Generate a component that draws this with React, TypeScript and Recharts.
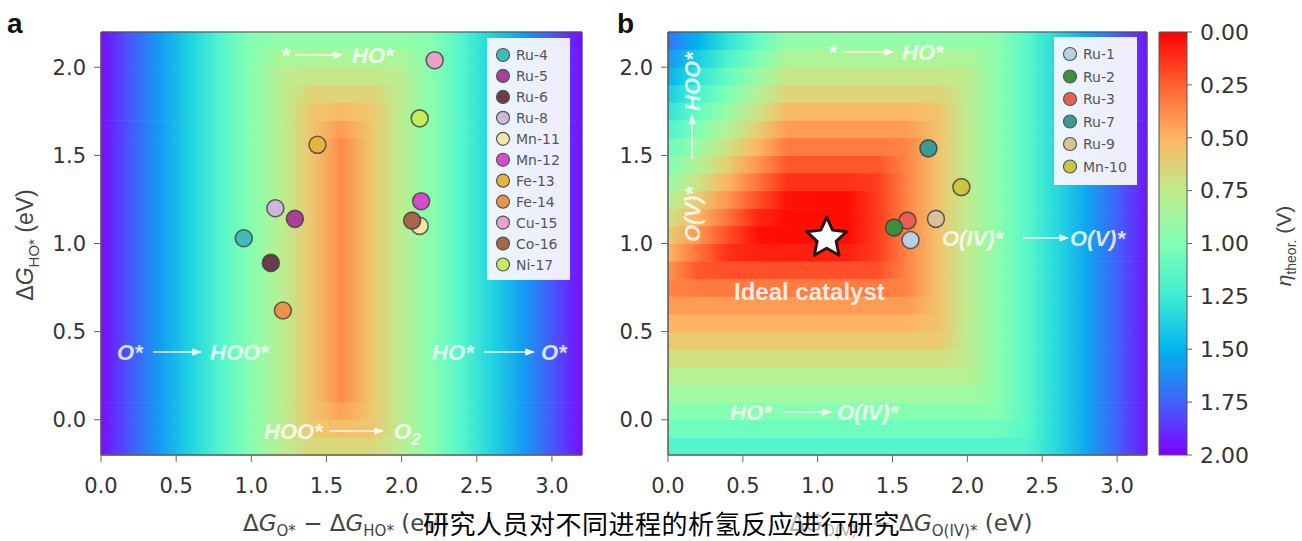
import React from "react";
import { ScatterChart, Scatter, XAxis, YAxis, ReferenceArea, BarChart, Bar } from "recharts";

// grid columns of the overpotential maps (eV)
const xGrid = [0, 0.2, 0.4, 0.6, 0.8, 1.0, 1.2, 1.4, 1.6, 1.8, 2.0, 2.2, 2.4, 2.6, 2.8, 3.0, 3.2];

// panel a: horizontal bands (bottom -> top) and eta_theor read per column
const yEdgesA = [-0.2, -0.1, 0.0, 0.1, 1.6, 1.7, 1.8, 1.9, 2.0, 2.1, 2.2];
const etaA = [
  [1.97, 1.77, 1.57, 1.37, 1.17, 0.97, 0.77, 0.64, 0.64, 0.64, 0.77, 0.97, 1.17, 1.37, 1.57, 1.77, 1.97],
  [1.97, 1.77, 1.57, 1.37, 1.17, 0.97, 0.77, 0.57, 0.54, 0.57, 0.77, 0.97, 1.17, 1.37, 1.57, 1.77, 1.97],
  [1.97, 1.77, 1.57, 1.37, 1.17, 0.97, 0.77, 0.57, 0.44, 0.57, 0.77, 0.97, 1.17, 1.37, 1.57, 1.77, 1.97],
  [1.97, 1.77, 1.57, 1.37, 1.17, 0.97, 0.77, 0.57, 0.37, 0.57, 0.77, 0.97, 1.17, 1.37, 1.57, 1.77, 1.97],
  [1.97, 1.77, 1.57, 1.37, 1.17, 0.97, 0.77, 0.57, 0.42, 0.57, 0.77, 0.97, 1.17, 1.37, 1.57, 1.77, 1.97],
  [1.97, 1.77, 1.57, 1.37, 1.17, 0.97, 0.77, 0.57, 0.52, 0.57, 0.77, 0.97, 1.17, 1.37, 1.57, 1.77, 1.97],
  [1.97, 1.77, 1.57, 1.37, 1.17, 0.97, 0.77, 0.62, 0.62, 0.62, 0.77, 0.97, 1.17, 1.37, 1.57, 1.77, 1.97],
  [1.97, 1.77, 1.57, 1.37, 1.17, 0.97, 0.77, 0.72, 0.72, 0.72, 0.77, 0.97, 1.17, 1.37, 1.57, 1.77, 1.97],
  [1.97, 1.77, 1.57, 1.37, 1.17, 0.97, 0.82, 0.82, 0.82, 0.82, 0.82, 0.97, 1.17, 1.37, 1.57, 1.77, 1.97],
  [1.97, 1.77, 1.57, 1.37, 1.17, 0.97, 0.92, 0.92, 0.92, 0.92, 0.92, 0.97, 1.17, 1.37, 1.57, 1.77, 1.97],
];

// panel b: 0.1 eV bands (bottom -> top)
const yEdgesB = [-0.2, -0.1, 0.0, 0.1, 0.2, 0.3, 0.4, 0.5, 0.6, 0.7, 0.8, 0.9, 1.0, 1.1, 1.2, 1.3, 1.4, 1.5, 1.6, 1.7, 1.8, 1.9, 2.0, 2.1, 2.2];
const etaB = [
  [1.18, 1.18, 1.18, 1.18, 1.18, 1.18, 1.18, 1.18, 1.18, 1.18, 1.18, 1.18, 1.18, 1.35, 1.55, 1.75, 1.95],
  [1.07, 1.07, 1.07, 1.07, 1.07, 1.07, 1.07, 1.07, 1.07, 1.07, 1.07, 1.07, 1.15, 1.35, 1.55, 1.75, 1.95],
  [0.97, 0.97, 0.97, 0.97, 0.97, 0.97, 0.97, 0.97, 0.97, 0.97, 0.97, 0.97, 1.15, 1.35, 1.55, 1.75, 1.95],
  [0.87, 0.87, 0.87, 0.87, 0.87, 0.87, 0.87, 0.87, 0.87, 0.87, 0.87, 0.95, 1.15, 1.35, 1.55, 1.75, 1.95],
  [0.78, 0.78, 0.78, 0.78, 0.78, 0.78, 0.78, 0.78, 0.78, 0.78, 0.78, 0.95, 1.15, 1.35, 1.55, 1.75, 1.95],
  [0.68, 0.68, 0.68, 0.68, 0.68, 0.68, 0.68, 0.68, 0.68, 0.68, 0.75, 0.95, 1.15, 1.35, 1.55, 1.75, 1.95],
  [0.58, 0.58, 0.58, 0.58, 0.58, 0.58, 0.58, 0.58, 0.58, 0.58, 0.75, 0.95, 1.15, 1.35, 1.55, 1.75, 1.95],
  [0.5, 0.5, 0.5, 0.5, 0.5, 0.5, 0.5, 0.5, 0.5, 0.55, 0.75, 0.95, 1.15, 1.35, 1.55, 1.75, 1.95],
  [0.42, 0.42, 0.42, 0.42, 0.42, 0.42, 0.42, 0.42, 0.42, 0.55, 0.75, 0.95, 1.15, 1.35, 1.55, 1.75, 1.95],
  [0.34, 0.32, 0.32, 0.32, 0.32, 0.32, 0.32, 0.32, 0.35, 0.55, 0.75, 0.95, 1.15, 1.35, 1.55, 1.75, 1.95],
  [0.4, 0.22, 0.2, 0.2, 0.2, 0.2, 0.2, 0.2, 0.35, 0.55, 0.75, 0.95, 1.15, 1.35, 1.55, 1.75, 1.95],
  [0.5, 0.3, 0.12, 0.08, 0.08, 0.08, 0.08, 0.15, 0.35, 0.55, 0.75, 0.95, 1.15, 1.35, 1.55, 1.75, 1.95],
  [0.6, 0.4, 0.2, 0.04, 0.03, 0.03, 0.03, 0.15, 0.35, 0.55, 0.75, 0.95, 1.15, 1.35, 1.55, 1.75, 1.95],
  [0.7, 0.5, 0.3, 0.1, 0.03, 0.03, 0.03, 0.15, 0.35, 0.55, 0.75, 0.95, 1.15, 1.35, 1.55, 1.75, 1.95],
  [0.8, 0.6, 0.4, 0.2, 0.04, 0.03, 0.03, 0.15, 0.35, 0.55, 0.75, 0.95, 1.15, 1.35, 1.55, 1.75, 1.95],
  [0.9, 0.7, 0.5, 0.3, 0.12, 0.12, 0.12, 0.15, 0.35, 0.55, 0.75, 0.95, 1.15, 1.35, 1.55, 1.75, 1.95],
  [1.0, 0.8, 0.6, 0.4, 0.22, 0.22, 0.22, 0.22, 0.35, 0.55, 0.75, 0.95, 1.15, 1.35, 1.55, 1.75, 1.95],
  [1.1, 0.9, 0.7, 0.5, 0.32, 0.32, 0.32, 0.32, 0.35, 0.55, 0.75, 0.95, 1.15, 1.35, 1.55, 1.75, 1.95],
  [1.2, 1.0, 0.8, 0.6, 0.42, 0.42, 0.42, 0.42, 0.42, 0.55, 0.75, 0.95, 1.15, 1.35, 1.55, 1.75, 1.95],
  [1.3, 1.1, 0.9, 0.7, 0.52, 0.52, 0.52, 0.52, 0.52, 0.55, 0.75, 0.95, 1.15, 1.35, 1.55, 1.75, 1.95],
  [1.4, 1.2, 1.0, 0.8, 0.62, 0.62, 0.62, 0.62, 0.62, 0.62, 0.75, 0.95, 1.15, 1.35, 1.55, 1.75, 1.95],
  [1.5, 1.3, 1.1, 0.9, 0.72, 0.72, 0.72, 0.72, 0.72, 0.72, 0.75, 0.95, 1.15, 1.35, 1.55, 1.75, 1.95],
  [1.6, 1.4, 1.2, 1.0, 0.82, 0.82, 0.82, 0.82, 0.82, 0.82, 0.82, 0.95, 1.15, 1.35, 1.55, 1.75, 1.95],
  [1.7, 1.5, 1.3, 1.1, 0.92, 0.92, 0.92, 0.92, 0.92, 0.92, 0.92, 0.95, 1.15, 1.35, 1.55, 1.75, 1.95],
];

// catalysts, panel a
const namesA = ["Ru-4", "Ru-5", "Ru-6", "Ru-8", "Mn-11", "Mn-12", "Fe-13", "Fe-14", "Cu-15", "Co-16", "Ni-17"];
const xA = [0.95, 1.29, 1.13, 1.16, 2.12, 2.13, 1.44, 1.21, 2.22, 2.07, 2.12];
const yA = [1.03, 1.14, 0.89, 1.2, 1.1, 1.24, 1.56, 0.62, 2.04, 1.13, 1.71];
const colorsA = ["#40bcb8", "#a8409c", "#6b3b4d", "#cbb8dc", "#f2e6a8", "#d44cc8", "#e4b43c", "#e8944a", "#eca2c8", "#a8664a", "#c4ec5c"];

// catalysts, panel b
const namesB = ["Ru-1", "Ru-2", "Ru-3", "Ru-7", "Ru-9", "Mn-10"];
const xB = [1.62, 1.51, 1.6, 1.74, 1.79, 1.96];
const yB = [1.02, 1.09, 1.13, 1.54, 1.14, 1.32];
const colorsB = ["#b8d0e4", "#3f8f3f", "#e86050", "#3a9a94", "#dcc09a", "#c8c840"];

const starX = [1.06];
const starY = [1.03];

const xTicks = [0, 0.5, 1, 1.5, 2, 2.5, 3];
const yTicks = [0, 0.5, 1, 1.5, 2];
const cbTicks = [0, 0.25, 0.5, 0.75, 1, 1.25, 1.5, 1.75, 2];
const cbData = [{ name: "eta", v: 2 }];

function rainbow(eta: number) {
  const t = Math.min(1, Math.max(0, 1 - eta / 2));
  const r = Math.min(1, Math.abs(2 * t - 0.5));
  const g = Math.sin(Math.PI * t);
  const b = Math.cos((Math.PI * t) / 2);
  return `rgb(${Math.round(r * 255)},${Math.round(g * 255)},${Math.round(b * 255)})`;
}

const tickStyle = { fill: "#333", fontSize: 21, fontFamily: "DejaVu Sans" };
const lineStyle = { stroke: "#666" };

const dot = (color: string) => (p: any) =>
  <circle cx={p.cx} cy={p.cy} r={8.5} fill={color} stroke="#3a3a3a" strokeOpacity={0.75} strokeWidth={1.6} />;

const starShape = (p: any) => {
  const pts: string[] = [];
  for (let k = 0; k < 10; k++) {
    const r = k % 2 === 0 ? 21 : 10;
    const a = -Math.PI / 2 + (k * Math.PI) / 5;
    pts.push(`${p.cx + r * Math.cos(a)},${p.cy + r * Math.sin(a)}`);
  }
  return <polygon points={pts.join(" ")} fill="#fff" stroke="#2b1510" strokeWidth={3} strokeLinejoin="round" />;
};

function gradients(id: string, grid: number[][]) {
  return grid.map((row, i) => (
    <linearGradient key={i} id={`${id}${i}`} x1="0" y1="0" x2="1" y2="0">
      {row.map((v, j) => (
        <stop key={j} offset={xGrid[j] / 3.2} stopColor={rainbow(v)} />
      ))}
    </linearGradient>
  ));
}

function bands(id: string, grid: number[][], edges: number[]) {
  return grid.map((_, i) => (
    <ReferenceArea
      key={`${id}${i}`}
      x1={0}
      x2={3.2}
      y1={edges[i]}
      y2={edges[i + 1]}
      fill={`url(#${id}${i})`}
      fillOpacity={1}
      stroke={`url(#${id}${i})`}
      strokeWidth={0.8}
    />
  ));
}

const annot = {
  fill: "#fff",
  fillOpacity: 0.82,
  fontFamily: "Liberation Sans, Arial",
  fontWeight: 700,
  fontStyle: "italic" as const,
  fontSize: 22,
};

function Arrow({ x1, x2, y }: { x1: number; x2: number; y: number }) {
  return <line x1={x1} x2={x2} y1={y} y2={y} stroke="#fff" strokeOpacity={0.85} strokeWidth={1.6} markerEnd="url(#ah)" />;
}

function LegendBox({ left, top, w, h, step, names, colors }: any) {
  return (
    <g>
      <rect x={left} y={top} width={w} height={h} fill="#f8f6fd" fillOpacity={0.95} />
      {names.map((n: string, i: number) => (
        <g key={n}>
          <circle cx={left + 16} cy={top + 17 + i * step} r={6.5} fill={colors[i]} stroke="#555" strokeWidth={1.2} />
          <text x={left + 29} y={top + 17 + i * step} dominantBaseline="central" fontFamily="DejaVu Sans" fontSize={14} fill="#555">
            {n}
          </text>
        </g>
      ))}
    </g>
  );
}

export default function App() {
  return (
    <div style={{ position: "absolute", left: 0, top: 0, width: 1302, height: 541, background: "#fff", overflow: "hidden" }}>
      {/* panel a */}
      <div style={{ position: "absolute", left: 0, top: 0 }}>
        <ScatterChart width={600} height={541} margin={{ top: 32, right: 18, bottom: 26, left: 41 }}>
          <defs>{gradients("gA", etaA)}</defs>
          <XAxis type="number" dataKey="x" domain={[0, 3.2]} ticks={xTicks} tickFormatter={(v) => v.toFixed(1)}
            height={60} tickSize={7} tickMargin={16} tick={tickStyle} axisLine={lineStyle} tickLine={lineStyle} allowDataOverflow />
          <YAxis type="number" dataKey="y" domain={[-0.2, 2.2]} ticks={yTicks} tickFormatter={(v) => v.toFixed(1)}
            width={60} tickSize={7} tickMargin={8} tick={tickStyle} axisLine={lineStyle} tickLine={lineStyle} allowDataOverflow />
          {bands("gA", etaA, yEdgesA)}
          <ReferenceArea x1={0} x2={3.2} y1={-0.2} y2={2.2} fill="none" stroke="#4a4a4a" strokeWidth={1} />
          {namesA.map((n, i) => (
            <Scatter key={n} name={n} data={[{ x: xA[i], y: yA[i] }]} fill={colorsA[i]} shape={dot(colorsA[i])} isAnimationActive={false} />
          ))}
        </ScatterChart>
      </div>

      {/* panel b */}
      <div style={{ position: "absolute", left: 600, top: 0 }}>
        <ScatterChart width={555} height={541} margin={{ top: 32, right: 8, bottom: 26, left: 8 }}>
          <defs>{gradients("gB", etaB)}</defs>
          <XAxis type="number" dataKey="x" domain={[0, 3.2]} ticks={xTicks} tickFormatter={(v) => v.toFixed(1)}
            height={60} tickSize={7} tickMargin={16} tick={tickStyle} axisLine={lineStyle} tickLine={lineStyle} allowDataOverflow />
          <YAxis type="number" dataKey="y" domain={[-0.2, 2.2]} ticks={yTicks} tickFormatter={(v) => v.toFixed(1)}
            width={60} tickSize={7} tickMargin={8} tick={tickStyle} axisLine={lineStyle} tickLine={lineStyle} allowDataOverflow />
          {bands("gB", etaB, yEdgesB)}
          <ReferenceArea x1={0} x2={3.2} y1={-0.2} y2={2.2} fill="none" stroke="#4a4a4a" strokeWidth={1} />
          <Scatter name="ideal" data={[{ x: starX[0], y: starY[0] }]} fill="#fff" shape={starShape} isAnimationActive={false} />
          {namesB.map((n, i) => ({ n, i })).reverse().map(({ n, i }) => (
            <Scatter key={n} name={n} data={[{ x: xB[i], y: yB[i] }]} fill={colorsB[i]} shape={dot(colorsB[i])} isAnimationActive={false} />
          ))}
        </ScatterChart>
      </div>

      {/* colour bar */}
      <div style={{ position: "absolute", left: 1130, top: 0 }}>
        <BarChart width={172} height={541} data={cbData} margin={{ top: 32, right: 45, bottom: 86, left: 29 }} barCategoryGap={0}>
          <defs>
            <linearGradient id="gCB" x1="0" y1="0" x2="0" y2="1">
              {cbTicks.map((v) => (
                <stop key={v} offset={v / 2} stopColor={rainbow(v)} />
              ))}
            </linearGradient>
          </defs>
          <XAxis dataKey="name" hide />
          <YAxis type="number" orientation="right" domain={[0, 2]} reversed ticks={cbTicks}
            tickFormatter={(v) => v.toFixed(2)} width={70} tickSize={5} tickMargin={8}
            tick={{ ...tickStyle, fontSize: 22 }} axisLine={false} tickLine={lineStyle} />
          <Bar dataKey="v" fill="url(#gCB)" stroke="#555" strokeWidth={1} isAnimationActive={false} />
        </BarChart>
      </div>

      {/* titles, annotations, legends */}
      <svg width={1302} height={541} style={{ position: "absolute", left: 0, top: 0, pointerEvents: "none" }}>
        <defs>
          <marker id="ah" viewBox="0 0 10 10" refX="9" refY="5" markerWidth="6" markerHeight="6" orient="auto">
            <path d="M0,1 L10,5 L0,9 z" fill="#fff" fillOpacity={0.9} />
          </marker>
        </defs>

        <text x={7} y={33} fontFamily="Liberation Sans, Arial" fontWeight={700} fontSize={28} fill="#111">a</text>
        <text x={617} y={33} fontFamily="Liberation Sans, Arial" fontWeight={700} fontSize={28} fill="#111">b</text>

        {/* axis titles */}
        <text transform="translate(33,245) rotate(-90)" textAnchor="middle" fontFamily="Liberation Sans, Arial" fontSize={23} fill="#444">
          Δ<tspan fontStyle="italic">G</tspan><tspan fontSize={15} dy={6}>HO*</tspan><tspan dy={-6}> (eV)</tspan>
        </text>
        <text x={346} y={531} textAnchor="middle" fontFamily="DejaVu Sans" fontSize={23} fill="#444">
          Δ<tspan fontStyle="italic">G</tspan><tspan fontSize={15} dy={5}>O*</tspan><tspan dy={-5}> − Δ</tspan>
          <tspan fontStyle="italic">G</tspan><tspan fontSize={15} dy={5}>HO*</tspan><tspan dy={-5}> (eV)</tspan>
        </text>
        <text x={911} y={531} textAnchor="middle" fontFamily="DejaVu Sans" fontSize={23} fill="#444">
          Δ<tspan fontStyle="italic">G</tspan><tspan fontSize={15} dy={5}>O(V)*</tspan><tspan dy={-5}> − Δ</tspan>
          <tspan fontStyle="italic">G</tspan><tspan fontSize={15} dy={5}>O(IV)*</tspan><tspan dy={-5}> (eV)</tspan>
        </text>
        <text transform="translate(1291,246) rotate(-90)" textAnchor="middle" fontFamily="Liberation Sans, Arial" fontSize={21} fill="#444">
          <tspan fontStyle="italic">η</tspan><tspan fontSize={14} dy={5}>theor.</tspan><tspan dy={-5}> (V)</tspan>
        </text>

        {/* panel a annotations */}
        <text x={281} y={63} {...annot}>*</text>
        <Arrow x1={295} x2={342} y={55} />
        <text x={352} y={63} {...annot}>HO*</text>

        <text x={117} y={360} {...annot}>O*</text>
        <Arrow x1={153} x2={201} y={352} />
        <text x={210} y={360} {...annot}>HOO*</text>

        <text x={432} y={360} {...annot}>HO*</text>
        <Arrow x1={484} x2={534} y={352} />
        <text x={541} y={360} {...annot}>O*</text>

        <text x={264} y={439} {...annot}>HOO*</text>
        <Arrow x1={329} x2={383} y={431} />
        <text x={394} y={439} {...annot}>O<tspan fontSize={17} dy={6}>2</tspan></text>

        {/* panel b annotations */}
        <text x={828} y={60} {...annot}>*</text>
        <Arrow x1={844} x2={893} y={52} />
        <text x={902} y={60} {...annot}>HO*</text>

        <g transform="translate(700,242) rotate(-90)">
          <text x={0} y={0} {...annot}>O(V)*</text>
          <Arrow x1={83} x2={127} y={-8} />
          <text x={131} y={0} {...annot}>HOO*</text>
        </g>

        <text x={942} y={246} {...annot}>O(IV)*</text>
        <Arrow x1={1023} x2={1068} y={238} />
        <text x={1070} y={246} {...annot}>O(V)*</text>

        <text x={730} y={420} {...annot}>HO*</text>
        <Arrow x1={784} x2={831} y={412} />
        <text x={837} y={420} {...annot}>O(IV)*</text>

        <text x={734} y={300} fill="#fff" fillOpacity={0.85} fontFamily="Liberation Sans, Arial" fontWeight={700} fontSize={24}>
          Ideal catalyst
        </text>

        <LegendBox left={487} top={38} w={83} h={242} step={20.95} names={namesA} colors={colorsA} />
        <LegendBox left={1054} top={37} w={83} h={148} step={22.5} names={namesB} colors={colorsB} />
      </svg>

      <div
        style={{
          position: "absolute",
          left: 423,
          top: 507,
          fontFamily: "Noto Sans CJK SC",
          fontSize: 26,
          lineHeight: "32px",
          letterSpacing: 0.5,
          color: "#000",
          background: "rgba(255,255,255,0.6)",
          whiteSpace: "nowrap",
        }}
      >
        研究人员对不同进程的析氢反应进行研究
      </div>
    </div>
  );
}
